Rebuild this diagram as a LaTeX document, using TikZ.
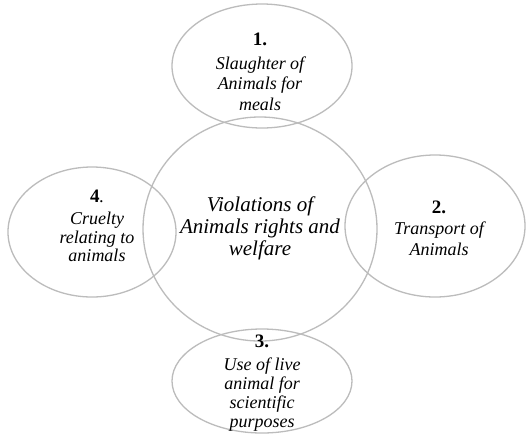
\documentclass[tikz,border=0pt]{standalone}
\usepackage{fontspec}
\setmainfont{Liberation Serif}
\usetikzlibrary{shapes.geometric}
\definecolor{ringgray}{RGB}{188,188,188}
\tikzset{
  ring/.style={ellipse, draw=ringgray, line width=1.3pt, inner sep=0pt, outer sep=0pt},
  smalltxt/.style={align=center, inner sep=0pt, font=\fontsize{18}{20.5}\selectfont\itshape},
  bigtxt/.style={align=center, inner sep=0pt, font=\fontsize{21}{22}\selectfont\itshape}
}
\newcommand{\numlab}[1]{{\fontsize{19}{19}\selectfont\upshape\bfseries #1}}
\begin{document}
\begin{tikzpicture}[x=1pt,y=-1pt]
\useasboundingbox[fill=white] (0,0) rectangle (526,437);
\node[ring, minimum width=234pt, minimum height=224pt] (mid) at (260,229) {};
\node[ring, minimum width=180pt, minimum height=124pt] (e1) at (262,66) {};
\node[ring, minimum width=180pt, minimum height=142pt] (e2) at (435,226) {};
\node[ring, minimum width=180pt, minimum height=104pt] (e3) at (262,381) {};
\node[ring, minimum width=168pt, minimum height=130pt] (e4) at (92,232) {};
\node[bigtxt] (tmid) at (260,228) {Violations of\\Animals rights and\\welfare};
\node[smalltxt] (t1) at (260,72) {\numlab{1.}\\[3pt]Slaughter of\\Animals for\\meals};
\node[smalltxt] (t2) at (439,228) {\numlab{2.}\\[1pt]Transport of\\Animals};
\node[smalltxt, font=\fontsize{18}{18.5}\selectfont\itshape] (t4) at (97,226) {\numlab{4}.\\[4pt]Cruelty\\relating to\\animals};
\node[smalltxt, font=\fontsize{18}{19}\selectfont\itshape] (t3) at (262,383) {\numlab{3.}\\[4pt]Use of live\\animal for\\scientific\\purposes};
\end{tikzpicture}
\end{document}
